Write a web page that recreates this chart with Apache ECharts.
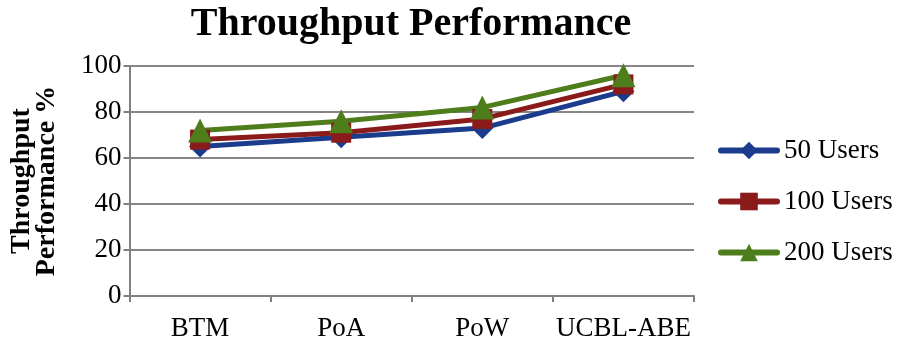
<!DOCTYPE html>
<html>
<head>
<meta charset="utf-8">
<script src="https://cdn.jsdelivr.net/npm/echarts@6/dist/echarts.min.js"></script>
<style>
  html, body { margin: 0; padding: 0; background: #fff; }
  #chart { width: 900px; height: 348px; }
</style>
</head>
<body>
<div id="chart"></div>
<script>
var categories = ["BTM", "PoA", "PoW", "UCBL-ABE"];
var users50 = [65, 69, 73, 89];
var users100 = [68, 71, 77, 92];
var users200 = [72, 76, 82, 96];
var yTicks = [0, 20, 40, 60, 80, 100];

var font = "'Liberation Serif', 'DejaVu Serif', serif";
var chartDom = document.getElementById("chart");
var myChart = echarts.init(chartDom);

function makeSeries(name, data, color, symbol, size) {
  return {
    name: name,
    type: "line",
    data: data,
    symbol: symbol,
    symbolSize: size,
    showAllSymbol: true,
    itemStyle: { color: color },
    lineStyle: { color: color, width: 5 },
    animation: false
  };
}

myChart.setOption({
  backgroundColor: "#fff",
  title: {
    text: "Throughput Performance",
    left: 406,
    top: 0,
    textAlign: "center",
    textStyle: { fontFamily: font, fontWeight: "bold", fontSize: 40, color: "#000" }
  },
  legend: {
    orient: "vertical",
    left: 713,
    top: 132,
    itemWidth: 56,
    itemHeight: 22,
    itemGap: 24,
    lineStyle: { width: 6, cap: "round" },
    textStyle: { fontFamily: font, fontSize: 27, color: "#000", padding: [0, 0, 0, 2] },
    data: ["50 Users", "100 Users", "200 Users"]
  },
  grid: { left: 129, right: 206, top: 66, bottom: 52 },
  xAxis: {
    type: "category",
    data: categories,
    boundaryGap: true,
    axisLine: { lineStyle: { color: "#808080", width: 2 } },
    axisTick: { show: true, interval: 0, length: 6, lineStyle: { color: "#808080", width: 2 } },
    axisLabel: { interval: 0, fontFamily: font, fontSize: 27, color: "#000", margin: 19 }
  },
  yAxis: {
    type: "value",
    min: yTicks[0],
    max: yTicks[yTicks.length - 1],
    interval: 20,
    name: "Throughput\nPerformance %",
    nameLocation: "middle",
    nameGap: 70,
    nameTextStyle: { fontFamily: font, fontWeight: "bold", fontSize: 28, color: "#000", lineHeight: 25 },
    axisLine: { show: true, lineStyle: { color: "#808080", width: 2 } },
    axisTick: { show: true, length: 6, lineStyle: { color: "#808080", width: 2 } },
    axisLabel: { fontFamily: font, fontSize: 27, color: "#000", margin: 8 },
    splitLine: { lineStyle: { color: "#868686", width: 2 } }
  },
  series: [
    makeSeries("50 Users", users50, "#1B3C8C", "diamond", 22),
    makeSeries("100 Users", users100, "#8B1A1A", "rect", 20),
    makeSeries("200 Users", users200, "#4E7D1C", "triangle", 24)
  ]
});
</script>
</body>
</html>
